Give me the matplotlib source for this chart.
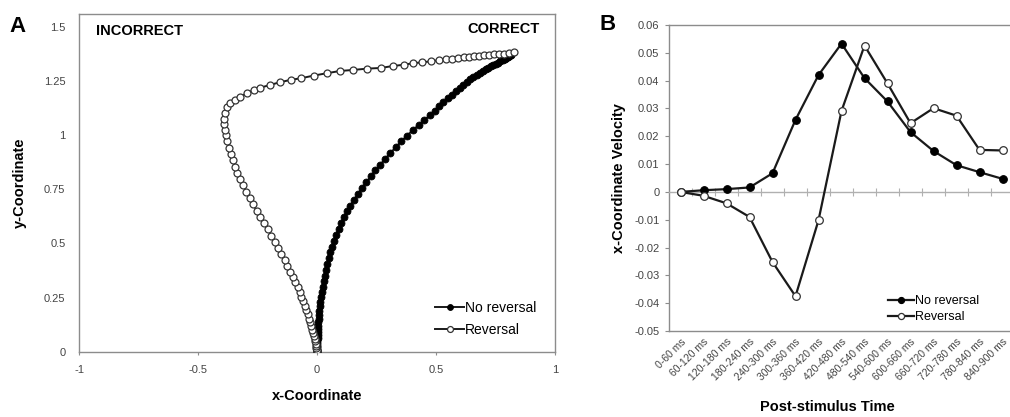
import matplotlib.pyplot as plt

# Panel A: mean trajectories (x, y)
noRev_x = [0, 0, 0, 0, 0.000, 0.000, 0.001, 0.001, 0.001, 0.001, 0.002, 0.002, 0.003, 0.003, 0.004,
           0.005, 0.006, 0.008, 0.009, 0.011, 0.014, 0.017, 0.020, 0.024, 0.028, 0.032, 0.037, 0.043,
           0.049, 0.056, 0.063, 0.071, 0.080, 0.090, 0.101, 0.113, 0.126, 0.140, 0.155, 0.172, 0.189,
           0.207, 0.226, 0.245, 0.265, 0.286, 0.308, 0.331, 0.354, 0.378, 0.402, 0.427, 0.451, 0.474,
           0.494, 0.513, 0.531, 0.549, 0.566, 0.583, 0.599, 0.614, 0.629, 0.643, 0.657, 0.670, 0.683,
           0.696, 0.708, 0.719, 0.730, 0.740, 0.750, 0.759, 0.767, 0.775, 0.782, 0.788, 0.793, 0.798,
           0.802, 0.805, 0.808, 0.810, 0.812, 0.813, 0.814, 0.815]
noRev_y = [0, 0.002, 0.005, 0.009, 0.014, 0.020, 0.027, 0.035, 0.044, 0.054, 0.065, 0.077, 0.090,
           0.104, 0.119, 0.135, 0.152, 0.170, 0.189, 0.209, 0.230, 0.252, 0.275, 0.299, 0.324, 0.350,
           0.377, 0.404, 0.431, 0.458, 0.485, 0.512, 0.539, 0.566, 0.593, 0.620, 0.647, 0.674, 0.701,
           0.728, 0.755, 0.782, 0.809, 0.836, 0.863, 0.890, 0.917, 0.944, 0.971, 0.997, 1.022, 1.046,
           1.069, 1.091, 1.112, 1.132, 1.151, 1.169, 1.186, 1.202, 1.217, 1.231, 1.244, 1.256, 1.267,
           1.277, 1.286, 1.295, 1.303, 1.310, 1.317, 1.323, 1.329, 1.334, 1.339, 1.344, 1.348, 1.352,
           1.355, 1.358, 1.361, 1.363, 1.365, 1.367, 1.369, 1.371, 1.373, 1.374]

rev_x = [0, -0.001, -0.002, -0.003, -0.005, -0.006, -0.008, -0.011, -0.014, -0.017, -0.021, -0.025,
         -0.029, -0.034, -0.040, -0.046, -0.052, -0.059, -0.066, -0.074, -0.082, -0.092, -0.103,
         -0.114, -0.125, -0.137, -0.150, -0.163, -0.176, -0.192, -0.207, -0.223, -0.239, -0.254,
         -0.270, -0.284, -0.298, -0.311, -0.323, -0.335, -0.345, -0.355, -0.363, -0.370, -0.377,
         -0.383, -0.389, -0.393, -0.393, -0.386, -0.379, -0.365, -0.344, -0.323, -0.295, -0.267,
         -0.239, -0.197, -0.157, -0.112, -0.066, -0.014, 0.042, 0.095, 0.152, 0.211, 0.267, 0.318,
         0.365, 0.404, 0.442, 0.480, 0.512, 0.540, 0.568, 0.592, 0.617, 0.638, 0.659, 0.680, 0.701,
         0.722, 0.743, 0.764, 0.785, 0.806, 0.827]
rev_y = [0, 0.004, 0.010, 0.018, 0.027, 0.037, 0.048, 0.060, 0.073, 0.087, 0.102, 0.118, 0.135,
         0.153, 0.172, 0.191, 0.211, 0.232, 0.253, 0.275, 0.298, 0.321, 0.345, 0.370, 0.396, 0.422,
         0.449, 0.477, 0.506, 0.535, 0.564, 0.593, 0.622, 0.651, 0.680, 0.709, 0.738, 0.767, 0.796,
         0.825, 0.854, 0.883, 0.912, 0.941, 0.970, 0.998, 1.025, 1.050, 1.075, 1.100, 1.128, 1.146,
         1.161, 1.177, 1.192, 1.208, 1.218, 1.231, 1.243, 1.254, 1.262, 1.274, 1.285, 1.295, 1.300,
         1.306, 1.309, 1.318, 1.324, 1.331, 1.335, 1.340, 1.345, 1.349, 1.352, 1.355, 1.359, 1.361,
         1.365, 1.366, 1.368, 1.371, 1.372, 1.374, 1.375, 1.378, 1.381]

# Panel B: x-coordinate velocity per time bin
time_bins = ['0-60 ms', '60-120 ms', '120-180 ms', '180-240 ms', '240-300 ms', '300-360 ms',
             '360-420 ms', '420-480 ms', '480-540 ms', '540-600 ms', '600-660 ms', '660-720 ms',
             '720-780 ms', '780-840 ms', '840-900 ms']
vel_noRev = [0, 0.0006, 0.001, 0.0016, 0.0067, 0.0259, 0.042, 0.0533, 0.0409, 0.0325, 0.0215,
             0.0147, 0.0096, 0.0071, 0.0047]
vel_rev = [0, -0.0014, -0.0041, -0.009, -0.0252, -0.0375, -0.0102, 0.0291, 0.0526, 0.039,
           0.0247, 0.0301, 0.0274, 0.0151, 0.0149]

W, H = 1010, 417
GRAY = '#8c8c8c'
TICKC = '#444444'
LINEC = '#1a1a1a'
plt.rcParams['font.family'] = ['Liberation Sans', 'DejaVu Sans']

fig = plt.figure(figsize=(W / 100, H / 100), dpi=100)

# ---------------- Panel A ----------------
ax1 = fig.add_axes([79.3 / W, 1 - 351.7 / H, (555 - 79.3) / W, (351.7 - 14) / H])
ax1.plot(noRev_x, noRev_y, color=LINEC, lw=1.4, marker='o', ms=5, mfc='black', mec='black',
         mew=0.6, label='No reversal', zorder=3)
ax1.plot(rev_x, rev_y, color=LINEC, lw=1.4, marker='o', ms=5, mfc='white', mec='#333333',
         mew=0.9, label='Reversal', zorder=3)
ax1.set_xlim(-1, 1)
ax1.set_ylim(0, 1.558)
ax1.set_xticks([-1, -0.5, 0, 0.5, 1])
ax1.set_xticklabels(['-1', '-0.5', '0', '0.5', '1'])
ax1.set_yticks([0, 0.25, 0.5, 0.75, 1, 1.25, 1.5])
ax1.set_yticklabels(['0', '0.25', '0.5', '0.75', '1', '1.25', '1.5'])
for s in ax1.spines.values():
    s.set_color(GRAY)
    s.set_linewidth(1.0)
ax1.tick_params(axis='x', length=2.5, color=GRAY, pad=7, labelsize=8, labelcolor=TICKC)
ax1.tick_params(axis='y', length=0, pad=10, labelsize=8, labelcolor=TICKC)
ax1.set_xlabel('x-Coordinate', fontsize=10.5, fontweight='bold', labelpad=10)
ax1.set_ylabel('y-Coordinate', fontsize=10.5, fontweight='bold', labelpad=12)
ax1.text(0.035, 0.95, 'INCORRECT', transform=ax1.transAxes, fontsize=10.5, fontweight='bold',
         ha='left', va='center')
ax1.text(0.968, 0.955, 'CORRECT', transform=ax1.transAxes, fontsize=10.5, fontweight='bold',
         ha='right', va='center')
ax1.legend(loc='upper left', bbox_to_anchor=(435 / W, 1 - 301 / H), bbox_transform=fig.transFigure,
           frameon=False, fontsize=10, handlelength=2.1, handletextpad=0.05, labelspacing=0.55,
           borderpad=0, borderaxespad=0, numpoints=1, markerscale=0.85)
fig.text(18 / W, 1 - 26 / H, 'A', fontsize=16, fontweight='bold', ha='center', va='center')

# ---------------- Panel B ----------------
xpos = list(range(len(time_bins)))
ax2 = fig.add_axes([669 / W, 1 - 331 / H, 345 / W, (331 - 25) / H])
ax2.plot(xpos, vel_noRev, color=LINEC, lw=1.6, marker='o', ms=5.5, mfc='black', mec='black',
         mew=0.8, label='No reversal', zorder=3)
ax2.plot(xpos, vel_rev, color=LINEC, lw=1.6, marker='o', ms=5.5, mfc='white', mec='#333333',
         mew=0.9, label='Reversal', zorder=3)
ax2.set_xlim(-0.5, len(time_bins) - 0.5)
ax2.set_ylim(-0.05, 0.06)
yt = [-0.05, -0.04, -0.03, -0.02, -0.01, 0, 0.01, 0.02, 0.03, 0.04, 0.05, 0.06]
ax2.set_yticks(yt)
ax2.set_yticklabels(['%g' % v for v in yt])
for s in ['left', 'top', 'right']:
    ax2.spines[s].set_color(GRAY)
    ax2.spines[s].set_linewidth(1.0)
# category axis crosses at zero
ax2.spines['bottom'].set_position(('data', 0))
ax2.spines['bottom'].set_color('#b0b0b0')
ax2.spines['bottom'].set_linewidth(1.0)
ax2.set_xticks([k + 0.5 for k in xpos[:-1]])
ax2.set_xticklabels([])
ax2.tick_params(axis='x', direction='inout', length=6, color='#b0b0b0')
ax2.tick_params(axis='y', length=3, color=GRAY, pad=4, labelsize=8, labelcolor=TICKC)
sec = ax2.secondary_xaxis(0.0)
sec.set_xticks(xpos)
sec.set_xticklabels(time_bins, rotation=45, ha='right', rotation_mode='anchor')
sec.tick_params(axis='x', length=0, pad=4, labelsize=7.5, labelcolor=TICKC)
sec.spines['bottom'].set_color(GRAY)
sec.spines['bottom'].set_linewidth(1.0)
ax2.set_ylabel('x-Coordinate Velocity', fontsize=10.5, fontweight='bold', labelpad=6)
fig.text(827 / W, 1 - 407 / H, 'Post-stimulus Time', fontsize=10.5, fontweight='bold',
         ha='center', va='center')
ax2.legend(loc='upper left', bbox_to_anchor=(888 / W, 1 - 295 / H), bbox_transform=fig.transFigure,
           frameon=False, fontsize=9, handlelength=2.1, handletextpad=0.05, labelspacing=0.35,
           borderpad=0, borderaxespad=0, numpoints=1, markerscale=0.8)
fig.text(608 / W, 1 - 25 / H, 'B', fontsize=16, fontweight='bold', ha='center', va='center')

plt.savefig('out.png', dpi=100)
